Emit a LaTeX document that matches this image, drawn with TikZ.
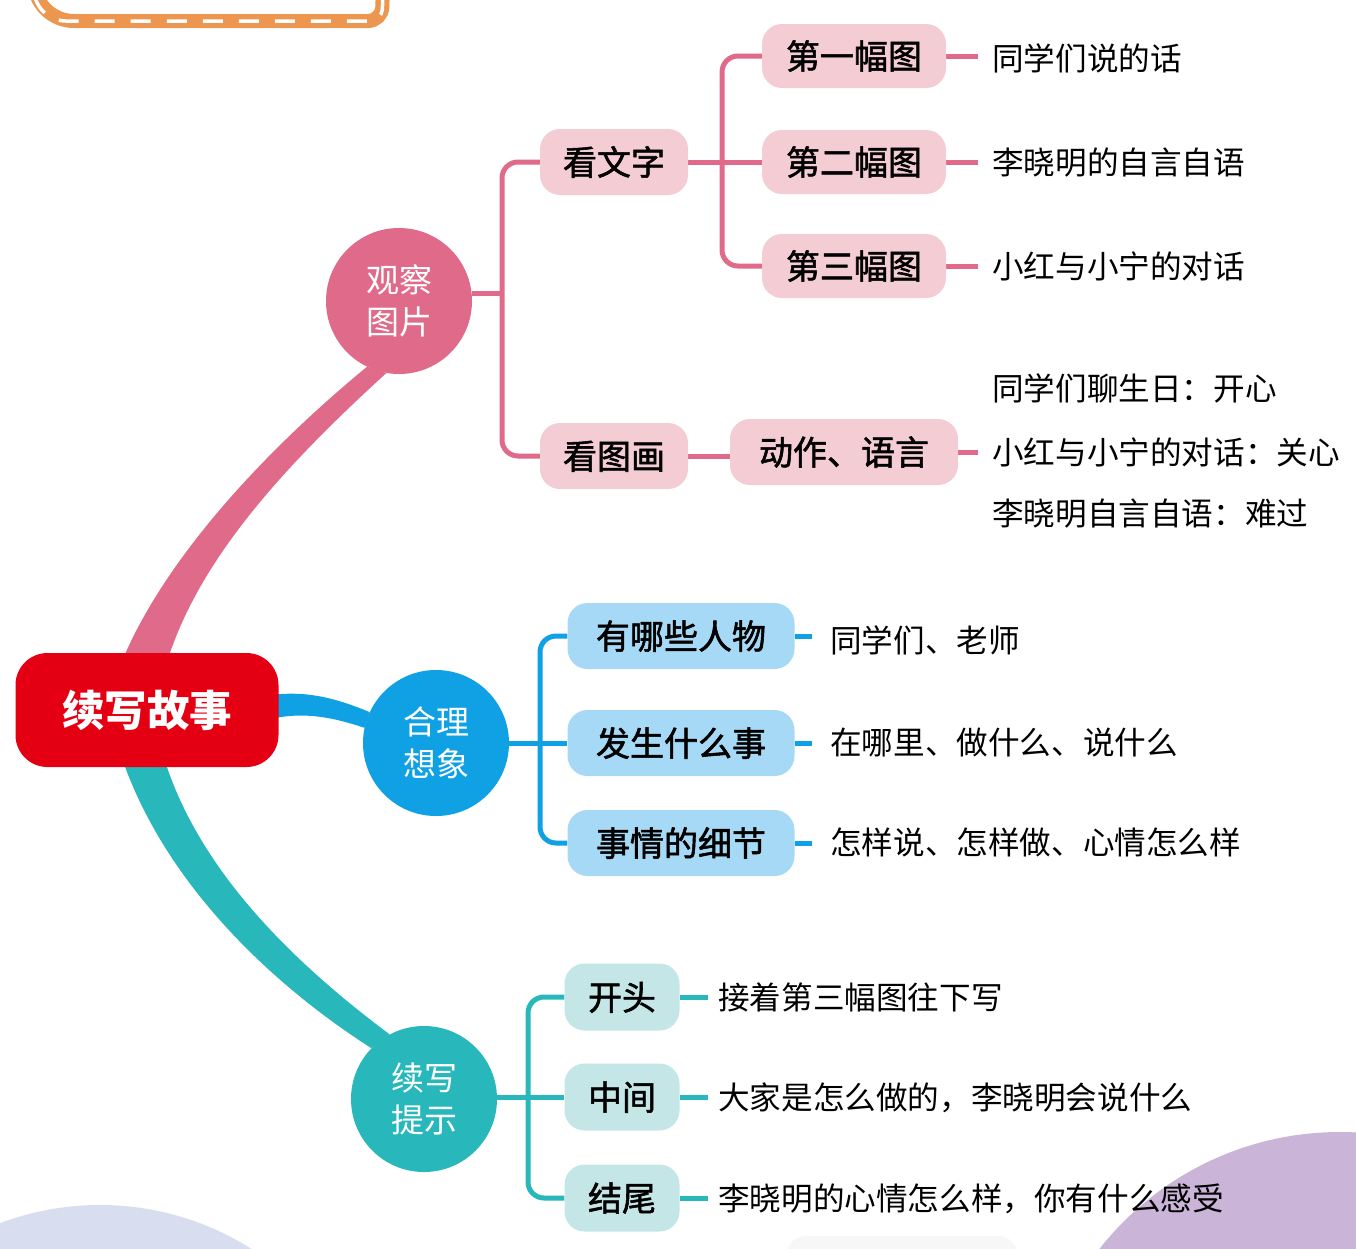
\documentclass[tikz,border=0pt]{standalone}
\usepackage{fontspec}
\newfontfamily\cjk{Noto Sans CJK SC}
\newfontfamily\cjkb[FakeBold=1.6]{Noto Sans CJK SC}
\usetikzlibrary{backgrounds,calc}
\definecolor{pinkM}{RGB}{224,106,138}
\definecolor{pinkL}{RGB}{244,204,212}
\definecolor{blueM}{RGB}{16,160,228}
\definecolor{blueL}{RGB}{166,217,245}
\definecolor{tealM}{RGB}{40,183,186}
\definecolor{tealL}{RGB}{196,230,230}
\definecolor{rootR}{RGB}{228,0,18}
\definecolor{orangeB}{RGB}{236,150,80}
\definecolor{lav}{RGB}{216,222,240}
\definecolor{purp}{RGB}{202,180,215}
\tikzset{
  sub/.style={text height=30pt, text depth=4pt, inner sep=0pt, rounded corners=20pt, minimum height=66pt, font=\cjkb\fontsize{34}{40}\selectfont},
  pinkbox/.style={sub, fill=pinkL},
  bluebox/.style={sub, fill=blueL},
  tealbox/.style={sub, fill=tealL},
  circ/.style={circle, minimum size=146pt, inner sep=0pt, text=white, align=center, font=\cjk\fontsize{33}{42}\selectfont},
  leaf/.style={anchor=west, text height=27.8pt, text depth=3.8pt, inner sep=0pt, font=\cjk\fontsize{31.6}{36}\selectfont},
  pline/.style={draw=pinkM, line width=5pt, rounded corners=16pt},
  bline/.style={draw=blueM, line width=5pt, rounded corners=16pt},
  tline/.style={draw=tealM, line width=5pt, rounded corners=16pt},
}
\begin{document}
\begin{tikzpicture}[x=1pt,y=-1pt]
\useasboundingbox (0,0) rectangle (1356,1248);
% nodes
\node[rounded corners=32pt, fill=rootR, minimum width=263pt, minimum height=114pt, text height=37pt, text depth=5pt, inner sep=0pt, text=white, font=\cjk\bfseries\fontsize{42.5}{48}\selectfont] (root) at (147,710) {续写故事};
\node[circ, fill=pinkM] (c1) at (399,301) {观察\\图片};
\node[circ, fill=blueM] (c2) at (436,743) {合理\\想象};
\node[circ, fill=tealM] (c3) at (424,1099) {续写\\提示};

\node[pinkbox, minimum width=148pt] (kwz) at (614,162) {看文字};
\node[pinkbox, minimum width=148pt] (ktd) at (614,456) {看图画};
\node[pinkbox, minimum width=184pt, minimum height=64pt] (n1) at (854,56) {第一幅图};
\node[pinkbox, minimum width=184pt, minimum height=64pt] (n2) at (854,162) {第二幅图};
\node[pinkbox, minimum width=184pt, minimum height=64pt] (n3) at (854,266) {第三幅图};
\node[pinkbox, minimum width=228pt] (dz) at (844,452) {动作、语言};

\node[bluebox, minimum width=227pt] (b1) at (681,636) {有哪些人物};
\node[bluebox, minimum width=227pt] (b2) at (681,743) {发生什么事};
\node[bluebox, minimum width=227pt] (b3) at (681,843) {事情的细节};

\node[tealbox, minimum width=115pt, minimum height=67pt] (t1) at (622,997) {开头};
\node[tealbox, minimum width=115pt, minimum height=67pt] (t2) at (622,1097) {中间};
\node[tealbox, minimum width=115pt, minimum height=67pt] (t3) at (622,1198) {结尾};

\node[leaf] (l1) at (992,58) {同学们说的话};
\node[leaf] (l2) at (992,162) {李晓明的自言自语};
\node[leaf] (l3) at (992,266) {小红与小宁的对话};
\node[leaf] (la) at (992,388) {同学们聊生日：开心};
\node[leaf] (lb) at (992,452) {小红与小宁的对话：关心};
\node[leaf] (lc) at (992,513) {李晓明自言自语：难过};

\node[leaf] (m1) at (830,640) {同学们、老师};
\node[leaf] (m2) at (830,742) {在哪里、做什么、说什么};
\node[leaf] (m3) at (830,842) {怎样说、怎样做、心情怎么样};

\node[leaf] (s1) at (718,997) {接着第三幅图往下写};
\node[leaf] (s2) at (718,1097) {大家是怎么做的，李晓明会说什么};
\node[leaf] (s3) at (718,1198) {李晓明的心情怎么样，你有什么感受};

\coordinate (pj) at (502,293);
\coordinate (pj2) at (722,162);
\coordinate (bj) at (540,743);
\coordinate (tj) at (528,1097);

\begin{pgfonlayer}{background}
  \begin{scope}
    \clip (0,0) rectangle (1356,1248);
    \fill[lav] (100,1488) circle[radius=283];
    \fill[purp] (1340,1438) circle[radius=306];
    \fill[black!3, rounded corners=20pt] (786,1236) rectangle (1018,1290);
    \draw[orangeB, line width=14pt, rounded corners=40pt] (34,-60) -- (34,21) [rounded corners=14pt] -- (382,21) -- (384,-60);
    \draw[white, line width=3.5pt, dash pattern=on 20pt off 16pt, rounded corners=32pt] (34,-40) -- (34,21) [rounded corners=12pt] -- (382,21) -- (384,-40);
  \end{scope}
  % main branches
  \fill[pinkM] ($(root.north)+(-24,6)$) .. controls (165,560) and (260,455) .. (c1.244) -- (c1.260) .. controls (280,470) and (200,560) .. ($(root.north)+(21,6)$) -- cycle;
  \fill[blueM] ($(root.east)+(-8,-15)$) .. controls (310,690) and (340,700) .. (c2.155) -- (c2.168) .. controls (335,718) and (305,711) .. ($(root.east)+(-8,9)$) -- cycle;
  \fill[tealM] ($(root.south)+(-24,-6)$) .. controls (165,880) and (265,980) .. (c3.136) -- (c3.118) .. controls (290,960) and (200,870) .. ($(root.south)+(18,-6)$) -- cycle;
  % pink sub-branches
  \draw[pline] (c1.east |- pj) -- (pj);
  \draw[pline] (kwz.west) -| (pj);
  \draw[pline] (ktd.west) -| (pj);
  \draw[pline] (kwz.east) -- (n2.west);
  \draw[pline] (n1.west) -| (pj2);
  \draw[pline] (n3.west) -| (pj2);
  \draw[pline] (ktd.east) -- (ktd.east -| dz.west);
  \draw[pline] (n1.east) -- ($(n1.east -| l1.west)+(-14,0)$);
  \draw[pline] (n2.east) -- ($(n2.east -| l2.west)+(-14,0)$);
  \draw[pline] (n3.east) -- ($(n3.east -| l3.west)+(-14,0)$);
  \draw[pline] (dz.east) -- ($(dz.east -| lb.west)+(-14,0)$);
  % blue sub-branches
  \draw[bline] (c2.east) -- (b2.west);
  \draw[bline] (b1.west) -| (bj);
  \draw[bline] (b3.west) -| (bj);
  \draw[bline] (b1.east) -- ($(b1.east -| m1.west)+(-18,0)$);
  \draw[bline] (b2.east) -- ($(b2.east -| m2.west)+(-18,0)$);
  \draw[bline] (b3.east) -- ($(b3.east -| m3.west)+(-18,0)$);
  % teal sub-branches
  \draw[tline] (c3.east |- t2.west) -- (t2.west);
  \draw[tline] (t1.west) -| (tj);
  \draw[tline] (t3.west) -| (tj);
  \draw[tline] (t1.east) -- ($(t1.east -| s1.west)+(-10,0)$);
  \draw[tline] (t2.east) -- ($(t2.east -| s2.west)+(-10,0)$);
  \draw[tline] (t3.east) -- ($(t3.east -| s3.west)+(-10,0)$);
\end{pgfonlayer}
\end{tikzpicture}
\end{document}
